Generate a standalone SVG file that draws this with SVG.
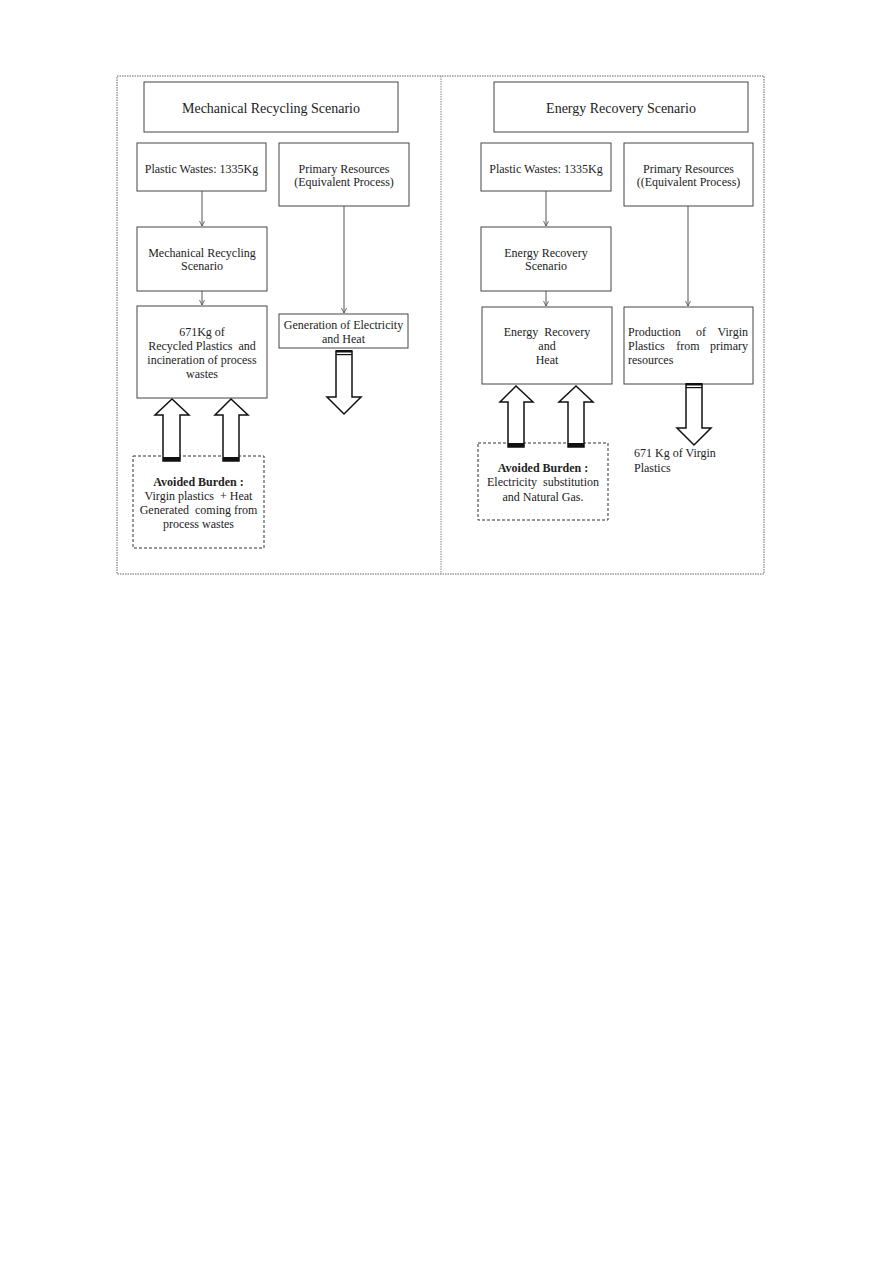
<svg xmlns="http://www.w3.org/2000/svg" width="893" height="1263" viewBox="0 0 893 1263">
<defs>
<style>
.box{fill:#fff;stroke:#444;stroke-width:1}
.dash{fill:#fff;stroke:#333;stroke-width:1;stroke-dasharray:3,2}
.t{font-family:"Liberation Serif","Times New Roman",serif;font-size:12px;fill:#222;text-anchor:middle}
.tl{font-family:"Liberation Serif","Times New Roman",serif;font-size:12px;fill:#222}
.te{font-family:"Liberation Serif","Times New Roman",serif;font-size:12px;fill:#222;text-anchor:end}
.title{font-family:"Liberation Serif","Times New Roman",serif;font-size:14px;fill:#222;text-anchor:middle}
.b{font-weight:bold}
.line{stroke:#555;stroke-width:1;fill:none}
.blk{fill:#fff;stroke:#111;stroke-width:1.5}
.band{fill:#111}
</style>
<marker id="ah" viewBox="0 0 8 8" refX="7" refY="4" markerWidth="6" markerHeight="6" orient="auto">
<path d="M0,0.5 L7,4 L0,7.5" fill="none" stroke="#444" stroke-width="1"/>
</marker>
</defs>
<rect width="893" height="1263" fill="#fff"/>
<g id="frame">
<rect x="117" y="76" width="647" height="498" fill="none" stroke="#666" stroke-width="1" stroke-dasharray="1.5,1"/>
<line x1="441" y1="76" x2="441" y2="574" stroke="#888" stroke-width="1" stroke-dasharray="1.5,1"/>
</g>
<g id="mr-title"><rect class="box" x="144" y="82" width="254" height="50"/><text class="title" x="271" y="113">Mechanical Recycling Scenario</text></g>
<g id="mr-waste"><rect class="box" x="137" y="143" width="129" height="48"/><text class="t" x="201.5" y="173">Plastic Wastes: 1335Kg</text></g>
<g id="mr-primary"><rect class="box" x="279" y="143" width="130" height="63"/><text class="t" x="344" y="173">Primary Resources</text><text class="t" x="344" y="186">(Equivalent Process)</text></g>
<g id="mr-process"><rect class="box" x="137" y="227" width="130" height="64"/><text class="t" x="202" y="257">Mechanical Recycling</text><text class="t" x="202" y="270">Scenario</text></g>
<g id="mr-output"><rect class="box" x="137" y="306" width="130" height="92"/><text class="t" x="202" y="336">671Kg of</text><text class="t" x="202" y="350" xml:space="preserve">Recycled Plastics  and</text><text class="t" x="202" y="364">incineration of process</text><text class="t" x="202" y="378">wastes</text></g>
<g id="mr-gen"><rect class="box" x="279" y="314" width="129" height="34"/><text class="t" x="343.5" y="329">Generation of Electricity</text><text class="t" x="343.5" y="343">and Heat</text></g>
<g id="mr-avoided"><rect class="dash" x="133" y="456" width="131" height="92"/><text class="t b" x="198.5" y="486">Avoided Burden :</text><text class="t" x="198.5" y="500" xml:space="preserve">Virgin plastics  + Heat</text><text class="t" x="198.5" y="514" xml:space="preserve">Generated  coming from</text><text class="t" x="198.5" y="528">process wastes</text></g>
<g id="er-title"><rect class="box" x="494" y="82" width="254" height="50"/><text class="title" x="621" y="113">Energy Recovery Scenario</text></g>
<g id="er-waste"><rect class="box" x="481" y="143" width="130" height="48"/><text class="t" x="546" y="173">Plastic Wastes: 1335Kg</text></g>
<g id="er-primary"><rect class="box" x="624" y="143" width="129" height="63"/><text class="t" x="688.5" y="173">Primary Resources</text><text class="t" x="688.5" y="186">((Equivalent Process)</text></g>
<g id="er-process"><rect class="box" x="481" y="227" width="130" height="64"/><text class="t" x="546" y="257">Energy Recovery</text><text class="t" x="546" y="270">Scenario</text></g>
<g id="er-output"><rect class="box" x="482" y="307" width="130" height="77"/><text class="t" x="547" y="336" xml:space="preserve">Energy  Recovery</text><text class="t" x="547" y="350">and</text><text class="t" x="547" y="364">Heat</text></g>
<g id="er-virgin"><rect class="box" x="624" y="307" width="129" height="77"/>
<text class="tl" x="628" y="336">Production</text><text class="t" x="701" y="336">of</text><text class="te" x="748" y="336">Virgin</text>
<text class="tl" x="628" y="350">Plastics</text><text class="t" x="688" y="350">from</text><text class="te" x="748" y="350">primary</text>
<text class="tl" x="628" y="364">resources</text></g>
<g id="er-avoided"><rect class="dash" x="478" y="443" width="130" height="77"/><text class="t b" x="543" y="472">Avoided Burden :</text><text class="t" x="543" y="486" xml:space="preserve">Electricity  substitution</text><text class="t" x="543" y="501">and Natural Gas.</text></g>
<g id="er-result"><text class="tl" x="634" y="457">671 Kg of Virgin</text><text class="tl" x="634" y="472">Plastics</text></g>
<g id="connectors">
<line class="line" x1="202" y1="191" x2="202" y2="226" marker-end="url(#ah)"/>
<line class="line" x1="202" y1="291" x2="202" y2="305" marker-end="url(#ah)"/>
<line class="line" x1="344" y1="206" x2="344" y2="313" marker-end="url(#ah)"/>
<line class="line" x1="546" y1="191" x2="546" y2="226" marker-end="url(#ah)"/>
<line class="line" x1="546" y1="291" x2="546" y2="306" marker-end="url(#ah)"/>
<line class="line" x1="688" y1="206" x2="688" y2="306" marker-end="url(#ah)"/>
<path class="blk" d="M336,351 L336,397 L327,397 L344,414 L361,397 L352,397 L352,351 Z"/>
<rect class="band" x="336" y="350" width="16" height="2.5"/>
<rect class="band" x="336" y="354" width="16" height="1.2"/>
<path class="blk" d="M163,461 L163,415 L155,415 L172,399 L189,415 L180,415 L180,461 Z"/>
<rect class="band" x="163" y="457" width="17" height="4"/>
<path class="blk" d="M223,461 L223,415 L215,415 L231,399 L248,415 L239,415 L239,461 Z"/>
<rect class="band" x="223" y="457" width="16" height="4"/>
<path class="blk" d="M508,447 L508,402 L500,402 L516,386 L533,402 L524,402 L524,447 Z"/>
<rect class="band" x="508" y="443" width="16" height="4"/>
<path class="blk" d="M568,447 L568,402 L559,402 L576,386 L593,402 L584,402 L584,447 Z"/>
<rect class="band" x="568" y="443" width="16" height="4"/>
<path class="blk" d="M686,384 L686,428 L677,428 L694,445 L711,428 L702,428 L702,384 Z"/>
<rect class="band" x="686" y="383" width="16" height="2.5"/>
<rect class="band" x="686" y="387" width="16" height="1.2"/>
</g>
</svg>
